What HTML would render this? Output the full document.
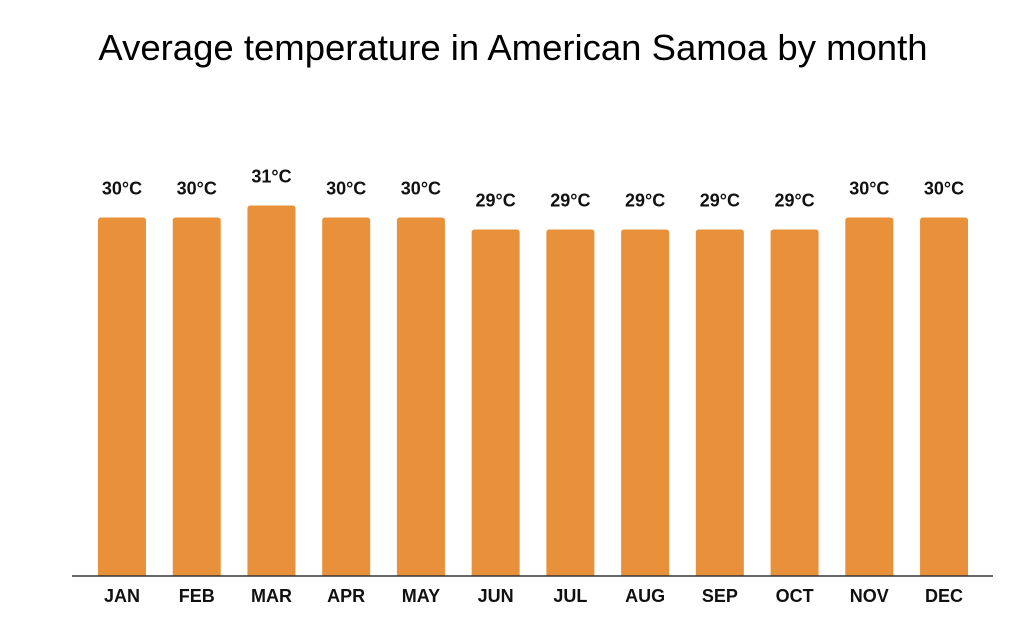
<!DOCTYPE html>
<html><head><meta charset="utf-8"><style>
html,body{margin:0;padding:0;background:#fff;}
svg{display:block;font-family:"Liberation Sans",Arial,sans-serif;}
</style></head><body>
<svg id="chart" width="1024" height="635">
<text x="513" y="60" text-anchor="middle" font-size="36.5" fill="#000">Average temperature in American Samoa by month</text>
<g id="bars"></g>
<line x1="72" y1="576" x2="993" y2="576" stroke="#333" stroke-width="1.5"/>
</svg>
<script>
const months = ["JAN","FEB","MAR","APR","MAY","JUN","JUL","AUG","SEP","OCT","NOV","DEC"];
const temps = [30,30,31,30,30,29,29,29,29,29,30,30];
const valueLabels = ["30°C","30°C","31°C","30°C","30°C","29°C","29°C","29°C","29°C","29°C","30°C","30°C"];
const ns = "http://www.w3.org/2000/svg";
const baseY = 576, pxPerDeg = 11.95;
const x0 = 98, step = 74.73, bw = 48;
function xPos(i){ return x0 + i*step; }
function yPos(v){ return baseY - v*pxPerDeg; }
const g = document.getElementById("bars");
months.forEach((m,i)=>{
  const x = xPos(i), y = yPos(temps[i]);
  const r = document.createElementNS(ns,"path");
  const rr = 3;
  r.setAttribute("d",`M${x},${baseY} V${y+rr} Q${x},${y} ${x+rr},${y} H${x+bw-rr} Q${x+bw},${y} ${x+bw},${y+rr} V${baseY} Z`);
  r.setAttribute("fill","#E8913A");
  
  
  g.appendChild(r);
  const t = document.createElementNS(ns,"text");
  t.setAttribute("x", x + bw/2);
  t.setAttribute("y", y - 23);
  t.setAttribute("text-anchor","middle");
  t.setAttribute("font-size","18");
  t.setAttribute("font-weight","bold");
  t.setAttribute("fill","#111");
  t.textContent = valueLabels[i];
  
  
  g.appendChild(t);
  const l = document.createElementNS(ns,"text");
  l.setAttribute("x", x + bw/2);
  l.setAttribute("y", 602);
  l.setAttribute("text-anchor","middle");
  l.setAttribute("font-size","18");
  l.setAttribute("font-weight","bold");
  l.setAttribute("fill","#111");
  l.textContent = m;
  
  
  g.appendChild(l);
});
</script>
</body></html>
